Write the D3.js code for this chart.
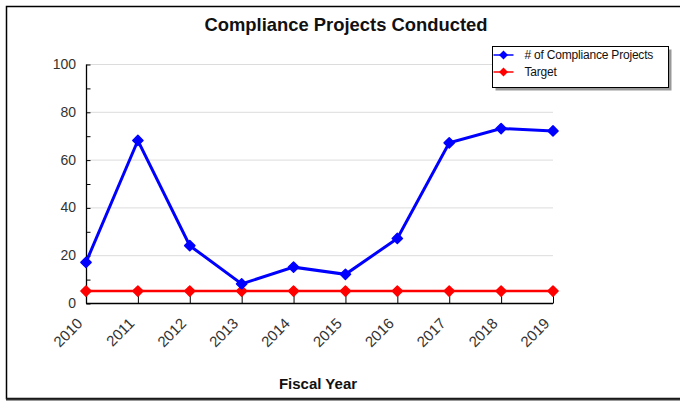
<!DOCTYPE html>
<html lang="en">
	<head>
		<meta charset="utf-8">
		<title>Compliance Projects Conducted</title>
		<script src="https://d3js.org/d3.v7.min.js"></script>
		<style>
			body { margin: 0; background: #fff; }
			text { font-family: "Liberation Sans", Arial, sans-serif; }
		</style>
	</head>
	<body>
		<script>

			// data
			var years = ["2010", "2011", "2012", "2013", "2014", "2015", "2016", "2017", "2018", "2019"];
			var projects = [17, 68, 24, 8, 15, 12, 27, 67, 73, 72];
			var target = [5, 5, 5, 5, 5, 5, 5, 5, 5, 5];
			var yMajor = [0, 20, 40, 60, 80, 100];
			var yMinor = [10, 30, 50, 70, 90];
			var seriesNames = ["# of Compliance Projects", "Target"];
			var seriesColors = ["#0000ff", "#ff0000"];

			var w = 680, h = 401;
			var plotL = 86, plotR = 553, plotT = 64, plotB = 303;

			var svg = d3.select("body").append("svg")
				.attr("width", w)
				.attr("height", h);

			// frame
			svg.append("rect")
				.attr("x", 6.5).attr("y", 6.5)
				.attr("width", 720).attr("height", 392)
				.attr("fill", "#fff")
				.attr("stroke", "#000")
				.attr("stroke-width", 1.5);
			svg.append("line")
				.attr("x1", 6).attr("x2", 700)
				.attr("y1", 399.5).attr("y2", 399.5)
				.attr("stroke", "#333").attr("stroke-width", 2);

			var x = d3.scalePoint().domain(years).range([plotL, plotR]);
			var y = d3.scaleLinear().domain([0, 100]).range([plotB, plotT]);

			// gridlines
			svg.append("g").selectAll("line")
				.data(yMajor.filter(function(d) { return d > 0; }))
				.enter().append("line")
				.attr("x1", plotL).attr("x2", plotR)
				.attr("y1", function(d) { return y(d) + 0.5; })
				.attr("y2", function(d) { return y(d) + 0.5; })
				.attr("stroke", "#dcdcdc").attr("stroke-width", 1);

			// y axis, ticks pointing inward
			var yAxis = svg.append("g")
				.attr("transform", "translate(" + (plotL + 0.5) + ",0.5)")
				.call(d3.axisRight(y).tickValues(yMajor.concat(yMinor)).tickSize(4).tickFormat(""));
			yAxis.select(".domain").attr("d", "M0," + plotT + "V" + plotB).attr("stroke-width", 1.3);

			svg.append("g").selectAll("text")
				.data(yMajor)
				.enter().append("text")
				.attr("x", 76)
				.attr("y", function(d) { return y(d); })
				.attr("dy", "0.36em")
				.attr("text-anchor", "end")
				.attr("font-size", 14)
				.attr("fill", "#333")
				.text(function(d) { return d; });

			// x axis, ticks pointing inward
			var xAxis = svg.append("g")
				.attr("transform", "translate(0," + (plotB + 0.5) + ")")
				.call(d3.axisTop(x).tickSize(10).tickSizeOuter(0).tickFormat(""));
			xAxis.select(".domain").attr("d", "M" + plotL + ",0H" + plotR).attr("stroke-width", 1.3);

			svg.append("g").selectAll("text")
				.data(years)
				.enter().append("text")
				.attr("transform", function(d) { return "translate(" + (x(d) - 10.5) + "," + (plotB + 13.5) + ") rotate(-45)"; })
				.attr("text-anchor", "end")
				.attr("dy", "0.75em")
				.attr("font-size", 15)
				.attr("fill", "#333")
				.text(function(d) { return d; });

			// lines and markers
			var diamond = d3.symbol().type(d3.symbolSquare).size(52);
			var line = d3.line()
				.x(function(d, i) { return x(years[i]); })
				.y(function(d) { return y(d); });

			[target, projects].forEach(function(values) {
				var c = values === projects ? seriesColors[0] : seriesColors[1];
				svg.append("path")
					.datum(values)
					.attr("d", line)
					.attr("fill", "none")
					.attr("stroke", c)
					.attr("stroke-width", values === projects ? 3 : 2.5);
				svg.append("g").selectAll("path")
					.data(values)
					.enter().append("path")
					.attr("d", diamond)
					.attr("transform", function(d, i) { return "translate(" + x(years[i]) + "," + y(d) + ") rotate(45)"; })
					.attr("fill", c)
					.attr("stroke", c)
					.attr("stroke-width", 1.5)
					.attr("stroke-linejoin", "round");
			});

			// title
			svg.append("text")
				.attr("x", 346).attr("y", 31)
				.attr("text-anchor", "middle")
				.attr("font-size", 18.4)
				.attr("font-weight", "bold")
				.attr("fill", "#111")
				.text("Compliance Projects Conducted");

			svg.append("text")
				.attr("x", 318).attr("y", 389)
				.attr("text-anchor", "middle")
				.attr("font-size", 15)
				.attr("font-weight", "bold")
				.attr("fill", "#111")
				.text("Fiscal Year");

			// legend
			var lg = svg.append("g").attr("transform", "translate(492.5,46.5)");
			lg.append("rect")
				.attr("x", 3).attr("y", 3)
				.attr("width", 176).attr("height", 41)
				.attr("fill", "#999");
			lg.append("rect")
				.attr("width", 176).attr("height", 41)
				.attr("fill", "#fff")
				.attr("stroke", "#000")
				.attr("stroke-width", 1);

			var items = lg.selectAll("g.item")
				.data(seriesNames)
				.enter().append("g")
				.attr("class", "item")
				.attr("transform", function(d, i) { return "translate(0," + (8.5 + i * 17) + ")"; });
			items.append("line")
				.attr("x1", 1).attr("x2", 21)
				.attr("stroke", function(d, i) { return seriesColors[i]; })
				.attr("stroke-width", 1.5);
			items.append("path")
				.attr("d", d3.symbol().type(d3.symbolSquare).size(40))
				.attr("transform", "translate(11,0) rotate(45)")
				.attr("fill", function(d, i) { return seriesColors[i]; });
			items.append("text")
				.attr("x", 32)
				.attr("dy", "0.35em")
				.attr("font-size", 12)
				.attr("letter-spacing", -0.2)
				.attr("fill", "#111")
				.text(function(d) { return d; });

		</script>
	</body>
</html>
